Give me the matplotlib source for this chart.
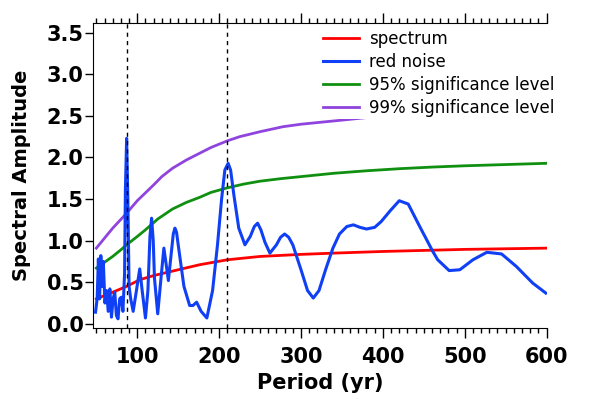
import matplotlib
matplotlib.use("Agg")
import matplotlib.pyplot as plt
from matplotlib.ticker import MultipleLocator, FormatStrFormatter

# red curve (labelled "spectrum" in the original legend)
red_period = [50, 60, 70, 87, 103, 120, 150, 176, 210, 250, 300, 340, 400, 460, 500, 600]
red_amp = [0.30, 0.34, 0.38, 0.45, 0.53, 0.58, 0.65, 0.71, 0.77, 0.81, 0.835, 0.85, 0.87,
           0.885, 0.895, 0.91]

# 95% level
sig95_period = [50, 60, 70, 80, 87, 100, 110, 125, 143, 160, 176, 190, 210, 230, 250,
                275, 300, 340, 380, 420, 461, 500, 550, 600]
sig95_amp = [0.67, 0.74, 0.81, 0.89, 0.95, 1.05, 1.13, 1.26, 1.38, 1.46, 1.52, 1.58, 1.635,
             1.68, 1.715, 1.745, 1.77, 1.81, 1.84, 1.865, 1.885, 1.90, 1.915, 1.93]

# 99% level
sig99_period = [50, 60, 70, 87, 100, 120, 130, 143, 160, 176, 190, 210, 225, 250, 278,
                300, 351, 400, 450, 500, 550, 600]
sig99_amp = [0.91, 1.03, 1.15, 1.33, 1.48, 1.67, 1.77, 1.87, 1.97, 2.05, 2.12, 2.20, 2.25,
             2.31, 2.37, 2.40, 2.45, 2.50, 2.54, 2.57, 2.59, 2.61]

# blue curve (labelled "red noise" in the original legend)
blue_period = [49, 51, 52.5, 54, 55.5, 57, 58.5, 60.5, 62.5, 64.5, 66.5, 68.5, 70.5,
               72.5, 74.5, 76.5, 78.5, 80.5, 82.5, 84.5, 85.5, 87, 88.5, 90, 92, 95,
               99, 103, 106, 110, 113, 115.5, 117.5, 119.5, 121, 125, 129, 132.5, 135.5,
               138, 141, 144, 146, 148, 150, 157, 164, 168, 172.5, 178, 185, 192, 198,
               203, 207, 211, 214, 218, 224, 231.5, 238, 243, 247, 251, 256, 262, 270,
               275, 280, 285, 290, 300, 308, 315, 322, 330, 339, 347, 356, 364, 372, 380,
               390, 398, 409, 420, 431, 445, 461, 467, 481, 494, 510, 527, 545, 563, 583, 599]
blue_amp = [0.14, 0.30, 0.78, 0.30, 0.82, 0.45, 0.75, 0.25, 0.40, 0.15, 0.42, 0.08, 0.30,
            0.38, 0.10, 0.06, 0.30, 0.32, 0.15, 0.60, 1.60, 2.23, 1.50, 0.45, 0.30, 0.15,
            0.40, 0.66, 0.40, 0.07, 0.40, 1.05, 1.27, 1.00, 0.55, 0.12, 0.55, 0.91, 0.70,
            0.52, 0.80, 1.08, 1.15, 1.10, 0.95, 0.45, 0.22, 0.22, 0.26, 0.15, 0.07, 0.40, 0.95,
            1.50, 1.85, 1.93, 1.85, 1.55, 1.15, 0.95, 1.05, 1.17, 1.21, 1.13, 0.98, 0.85, 0.95,
            1.04, 1.08, 1.04, 0.95, 0.65, 0.40, 0.31, 0.40, 0.65, 0.91, 1.08, 1.17, 1.19, 1.16,
            1.14, 1.16, 1.23, 1.36, 1.48, 1.44, 1.17, 0.87, 0.77, 0.64, 0.65, 0.77, 0.86, 0.84,
            0.69, 0.49, 0.37]

marked_periods = [87, 210]

plt.rcParams["font.family"] = ["DejaVu Sans"]

fig = plt.figure(figsize=(6, 3.99), dpi=100)
ax = fig.add_axes([0.1555, 0.178, 0.7555, 0.765])

ax.plot(red_period, red_amp, color="#ff0000", lw=2.0, label="spectrum", zorder=3)
ax.plot(blue_period, blue_amp, color="#1040f5", lw=2.2, label="red noise", zorder=4)
ax.plot(sig95_period, sig95_amp, color="#109010", lw=2.0, label="95% significance level", zorder=3)
ax.plot(sig99_period, sig99_amp, color="#8f45dd", lw=2.0, label="99% significance level", zorder=3)
for p in marked_periods:
    ax.axvline(p, color="black", lw=1.0, ls=(0, (3, 3)), zorder=5)

ax.set_xlim(46.3, 600)
ax.set_ylim(-0.05, 3.62)

ax.xaxis.set_major_locator(MultipleLocator(100))
ax.xaxis.set_minor_locator(MultipleLocator(10))
ax.yaxis.set_major_locator(MultipleLocator(0.5))
ax.yaxis.set_major_formatter(FormatStrFormatter("%.1f"))

ax.spines["right"].set_visible(False)
ax.tick_params(axis="x", which="major", direction="out", length=7, width=1, top=True,
               labelsize=15, pad=7)
ax.tick_params(axis="x", which="minor", direction="out", length=3.6, width=1, top=True)
ax.tick_params(axis="y", which="major", direction="out", length=6, width=1, labelsize=15, pad=1)
for lab in ax.get_xticklabels() + ax.get_yticklabels():
    lab.set_fontweight("bold")

ax.set_xlabel("Period (yr)", fontsize=15, fontweight="bold", labelpad=4)
ax.set_ylabel("Spectral Amplitude", fontsize=14, fontweight="bold", labelpad=11)

leg = ax.legend(loc="upper left", bbox_to_anchor=(0.497, 0.99), fontsize=12,
                frameon=True, framealpha=1, edgecolor="none", facecolor="white",
                handlelength=2.2, handletextpad=0.55, labelspacing=0.3, borderpad=0.15,
                borderaxespad=0.1)
leg.set_zorder(10)

fig.savefig("out.png", dpi=100)
